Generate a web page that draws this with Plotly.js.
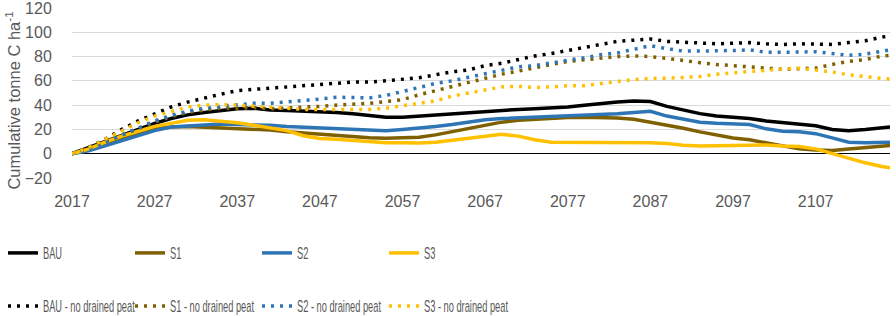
<!DOCTYPE html>
<html>
<head>
<meta charset="utf-8">
<script src="https://cdn.plot.ly/plotly-3.0.1.min.js"></script>
<style>
html,body{margin:0;padding:0;background:#fff;}
#chart{width:896px;height:316px;}
/* the reference's legend text is strongly condensed */
#chart text.legendtext, #chart text.legend2text{transform-box:fill-box;transform-origin:0 50%;transform:scaleX(0.58);}
#chart .infolayer .scrollbox{clip-path:none !important;}
</style>
</head>
<body>
<div id="chart"></div>
<script>
const years = [2017,2019,2021,2023,2025,2027,2029,2031,2033,2035,2037,2039,2041,2043,2045,2047,2049,2051,2053,2055,2057,2059,2061,2063,2065,2067,2069,2071,2073,2075,2077,2079,2081,2083,2085,2087,2089,2091,2093,2095,2097,2099,2101,2103,2105,2107,2109,2111,2113,2115,2116];
const tickYears = [2017,2027,2037,2047,2057,2067,2077,2087,2097,2107];
const yTicks = [-20,0,20,40,60,80,100,120];

const bau = [0,5,10.5,15.5,20,25,29,32,34,35.5,37,37.5,36,35.5,35,35,34,33,31.5,30,30,31,31.5,32.5,34,35,35.5,36.5,37,37.5,38.5,40,41.5,42.5,43.5,43,39,36,33,31,30,29,27,25.5,24,23,20,19,20,21,22];
const s1 = [0,3.5,8,12.5,17,20.5,22,22.5,22,21,20.5,20,19.5,18,17,16,15,14,13.2,12.8,13,13.5,15.5,18,21,23.5,26,27.5,28.4,29,29.8,30,30,29.5,28.3,26,24,21,18,15.5,13,11.5,9,6,4,3,2.7,3.8,4.7,5.8,6.7];
const s2 = [0,2.5,6.5,10.5,15,19,22,23,24,24.5,24,24,23.5,22.5,22,21.5,20.5,20,19.5,19,20,21,22.5,24,26,28,29,29.5,30,30.6,31.5,32,32,33,34,35,31,28.5,26,25,24.5,24,20.5,18.5,18,16.5,13,9.5,9,9.5,9.5];
const s3 = [0,4,9.5,14.5,18.5,22.5,25,27.5,28,27,25.5,23.5,21,19,14.8,12.5,12,10.8,10,9,9,8.8,9.5,11,12.5,14.5,16,14.5,11.5,9.5,9.5,9,9,9.3,9.5,9,8.5,7,6.4,6.6,7,7,7.2,6.3,6,4,0,-3.3,-7.5,-10.5,-11.6];
const bauNoPeat = [0,5,12,20,27,33,38.5,42.5,46,49,52,53,54,55,56.5,57,58,59,59,60,61,62.5,65,67.5,69,72.5,74.5,77.5,80.5,82.5,85,87,90,92.5,93.5,94.5,92.5,92,91.5,90.5,91,91.5,90.5,90,90.5,90,90,91.5,93,96,97];
const s1NoPeat = [0,4.5,10,15.5,21,26,30.5,34,36,37.5,37.5,38,37,37.5,38.5,39,40,40.5,41.5,43,44.5,48.5,52,55,59,62,65.5,68,71,73.5,76,77.5,79,80,80.5,80,78.5,76.5,75,73.5,72.5,71.5,70,69.5,70,70.5,73.5,76,77.5,80.5,81];
const s2NoPeat = [0,4,9.5,15,21,27,31.5,35,37.5,39,40,41.5,41.5,42.5,44,45,46.5,46.5,46,48,51,54.5,58,60,63,66,69,71.5,72.5,75,77,79,81.5,83,86,89,86.5,84.5,84.5,84.5,85,85.5,83.5,83.5,84,84,82.5,81,82,84.5,85.5];
const s3NoPeat = [0,5,12,19,25.5,31,35,38.5,40,40.5,40,39,38,37,36.5,36.5,36.5,36.5,36.5,37.5,39.5,41,43.5,47.5,50,53,55,55.5,54.5,55,56,56,58,59.5,61,62,62.2,62.6,63.5,65.5,66.5,68,69.2,69.8,70.4,69,67.3,65,63.3,62,61.5];

const names = ['BAU','S1','S2','S3'];
const solidSeries = [bau, s1, s2, s3];
const dottedSeries = [bauNoPeat, s1NoPeat, s2NoPeat, s3NoPeat];
const colors = ['#000000','#7F6000','#2E75B6','#FFC000'];

const traces = [];
solidSeries.forEach((ys, i) => {
  traces.push({x: years, y: ys, name: names[i], type: 'scatter', mode: 'lines',
    line: {color: colors[i], width: 3.5}, legend: 'legend', hoverinfo: 'skip'});
});
dottedSeries.forEach((ys, i) => {
  traces.push({x: years, y: ys, name: names[i] + ' - no drained peat', type: 'scatter', mode: 'lines',
    line: {color: colors[i], width: 3.5, dash: '3px,6px'}, legend: 'legend2', hoverinfo: 'skip'});
});

const tickFont = {family: 'Liberation Sans, Arial, sans-serif', size: 16, color: '#595959'};
const legendFont = {family: 'Liberation Sans, Arial, sans-serif', size: 16, color: '#595959'};
const legendCommon = {orientation: 'h', xref: 'container', yref: 'container', x: 3/896,
    xanchor: 'left', yanchor: 'middle', entrywidth: 82, entrywidthmode: 'pixels',
    font: legendFont, bgcolor: 'rgba(0,0,0,0)', itemclick: false, itemdoubleclick: false};

const layout = {
  width: 896, height: 316,
  margin: {l: 72, r: 6, t: 8, b: 138, autoexpand: false},
  paper_bgcolor: '#ffffff', plot_bgcolor: '#ffffff',
  showlegend: true,
  xaxis: {
    range: [2017, 2116], tickmode: 'array', tickvals: tickYears, ticktext: tickYears.map(String),
    showgrid: false, zeroline: false, showline: false,
    ticks: 'outside', ticklen: 9, tickcolor: 'rgba(0,0,0,0)',
    tickfont: tickFont, ticklabeloverflow: 'allow'
  },
  yaxis: {
    range: [-20, 120], tickmode: 'array', tickvals: yTicks,
    showgrid: true, gridcolor: '#d9d9d9', gridwidth: 1,
    zeroline: true, zerolinecolor: '#000000', zerolinewidth: 1.3,
    showline: false, ticks: 'outside', ticklen: 16, tickcolor: 'rgba(0,0,0,0)',
    tickfont: tickFont, ticklabeloverflow: 'allow'
  },
  annotations: [{
    text: 'Cumulative tonne C ha<sup>-1</sup>', textangle: -90,
    xref: 'paper', yref: 'paper', x: -(72 - 13) / 818, y: (177 - 100) / 169,
    xanchor: 'center', yanchor: 'middle', showarrow: false,
    font: {family: 'Liberation Sans, Arial, sans-serif', size: 16.5, color: '#595959'}
  }],
  legend: Object.assign({}, legendCommon, {y: 63/316}),
  legend2: Object.assign({}, legendCommon, {y: 10/316})
};

Plotly.newPlot('chart', traces, layout, {displayModeBar: false, staticPlot: true});
</script>
</body>
</html>
